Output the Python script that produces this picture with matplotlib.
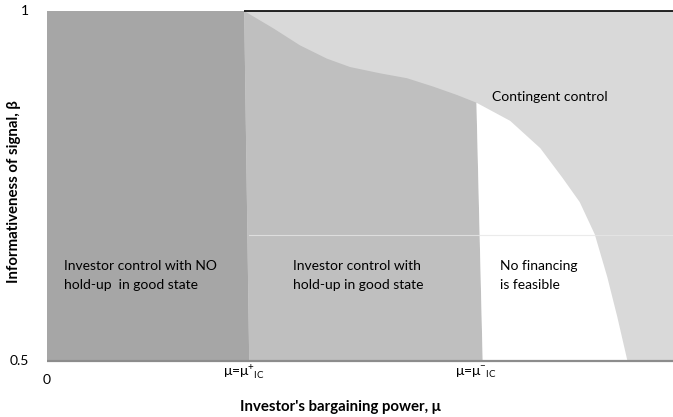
import matplotlib
matplotlib.use("Agg")
import matplotlib.pyplot as plt

# ---- data ----
mu_plus_ic = 0.315      # boundary NO hold-up / hold-up (top)
mu_plus_ic_bottom = 0.323
mu_minus_ic = 0.686     # boundary hold-up / no financing (top)
mu_minus_ic_bottom = 0.696

# upper boundary of the "hold-up" region (contingent control above)
holdup_curve_mu = [0.315, 0.362, 0.404, 0.447, 0.484, 0.532, 0.575, 0.617, 0.655, 0.686]
holdup_curve_beta = [1.000, 0.975, 0.951, 0.932, 0.920, 0.911, 0.904, 0.892, 0.880, 0.869]

# right boundary of the "no financing" region
nofin_curve_mu = [0.686, 0.740, 0.788, 0.824, 0.851, 0.875, 0.895, 0.911, 0.927]
nofin_curve_beta = [0.869, 0.843, 0.804, 0.761, 0.727, 0.681, 0.620, 0.563, 0.501]

beta_grid = 0.68

region_labels = ["Investor control with NO\nhold-up  in good state",
                 "Investor control with\nhold-up in good state",
                 "No financing\nis feasible",
                 "Contingent control"]

plt.rcParams['font.family'] = ['Lato', 'DejaVu Sans']
plt.rcParams['mathtext.fontset'] = 'custom'
plt.rcParams['mathtext.rm'] = 'Lato'

W, H = 673, 417
fig = plt.figure(figsize=(W / 100, H / 100), dpi=100)
ax = fig.add_axes([47 / W, (H - 361) / H, 626 / W, 350 / H])
ax.set_xlim(0, 1)
ax.set_ylim(0.5, 1)
for s in ax.spines.values():
    s.set_visible(False)
ax.set_xticks([])
ax.set_yticks([])

# background: contingent control
ax.fill([0, 1, 1, 0], [0.5, 0.5, 1, 1], color='#d9d9d9', lw=0)
# dark region
ax.fill([0, 0, mu_plus_ic, mu_plus_ic_bottom], [0.5, 1, 1, 0.5], color='#a6a6a6', lw=0)
# medium region
mx = holdup_curve_mu + [mu_minus_ic_bottom, mu_plus_ic_bottom]
my = holdup_curve_beta + [0.5, 0.5]
ax.fill(mx, my, color='#bfbfbf', lw=0)
# white region
wx = nofin_curve_mu + [mu_minus_ic_bottom]
wy = nofin_curve_beta + [0.5]
ax.fill(wx, wy, color='white', lw=0)

# faint gridline
ax.plot([mu_plus_ic_bottom, 1], [beta_grid, beta_grid], color='#e6e6e6', lw=0.8, alpha=0.8)

# top and bottom lines
ax.plot([mu_plus_ic, 1], [1, 1], color='black', lw=1.2, clip_on=False, solid_capstyle='butt')
ax.plot([0, 1], [0.5, 0.5], color='#8c8c8c', lw=1.6, clip_on=False, solid_capstyle='butt')

fs = 10
ls = 1.7
ax.text(0.027, 0.622, region_labels[0], fontsize=fs, va='center', ha='left', linespacing=ls)
ax.text(0.393, 0.622, region_labels[1], fontsize=fs, va='center', ha='left', linespacing=ls)
ax.text(0.724, 0.622, region_labels[2], fontsize=fs, va='center', ha='left', linespacing=ls)
ax.text(0.711, 0.877, region_labels[3], fontsize=fs, va='center', ha='left')

# tick labels
ax.text(-0.028, 1.0, "1", fontsize=fs, ha='right', va='center', clip_on=False)
ax.text(-0.028, 0.5, "0.5", fontsize=fs, ha='right', va='center', clip_on=False)
ax.text(0.0, 0.473, "0", fontsize=fs, ha='center', va='center', clip_on=False)
ax.text(mu_plus_ic, 0.485, r"μ=μ$^{+}$$_{\rm IC}$", fontsize=fs, ha='center', va='center', clip_on=False)
ax.text(mu_minus_ic, 0.485, r"μ=μ$^{-}$$_{\rm IC}$", fontsize=fs, ha='center', va='center', clip_on=False)

fig.text(340 / W, 1 - 407 / H, "Investor's bargaining power, μ", fontsize=10.8,
         fontweight='bold', ha='center', va='center')
fig.text(14 / W, 1 - 192 / H, "Informativeness of signal, β", fontsize=10.8,
         fontweight='bold', ha='center', va='center', rotation=90)

fig.savefig("out.png", dpi=100)
